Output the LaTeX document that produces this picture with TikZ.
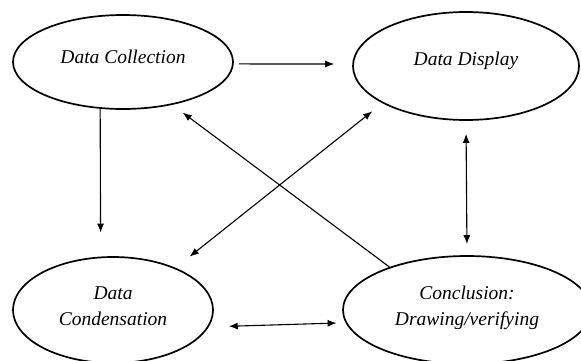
\documentclass[tikz,border=0pt]{standalone}
\usepackage{fontspec}
\setmainfont{Liberation Serif}
\usetikzlibrary{arrows.meta,shapes.geometric}

\begin{document}
\begin{tikzpicture}[x=1pt,y=-1pt,>={Latex[length=9pt,width=7pt]},line width=1.1pt,
                    stage/.style={ellipse,draw,line width=1.7pt,inner sep=0pt,
                                  align=center,
                                  font=\fontsize{19.5}{26}\selectfont\itshape}]
    \useasboundingbox (0,0) rectangle (581,360);
    \clip (0,0) rectangle (581,360);

                \node[stage,minimum width=220pt,minimum height=94pt,text height=13pt,text depth=11pt] (coll) at (123,62) {Data Collection};
                \node[stage,minimum width=226pt,minimum height=108pt,text height=13pt,text depth=15pt] (disp) at (466,66) {Data Display};
                \node[stage,minimum width=200pt,minimum height=106pt,text height=30pt,text depth=0pt] (cond) at (113,310) {Data\\Condensation};
                \node[stage,minimum width=248pt,minimum height=108pt,text height=30pt,text depth=0pt] (conc) at (467,310) {Conclusion:\\Drawing/verifying};

    \path[->]
    (coll.-1.6) edge [shorten <=5pt, shorten >=18pt] (disp.179.5)
    (coll.-116.6) edge [shorten >=24pt] (cond.103.9)
    (conc.151.4) edge [shorten >=13pt] (coll.-41);

    \path[<->]
    (disp.-90) edge [shorten <=13pt, shorten >=11pt] (conc.90)
    (cond.-10.2) edge [shorten <=20pt, shorten >=9pt] (conc.-174.3)
    (cond.34.6) edge [shorten <=18pt, shorten >=13pt] (disp.-156.8);
\end{tikzpicture}
\end{document}
